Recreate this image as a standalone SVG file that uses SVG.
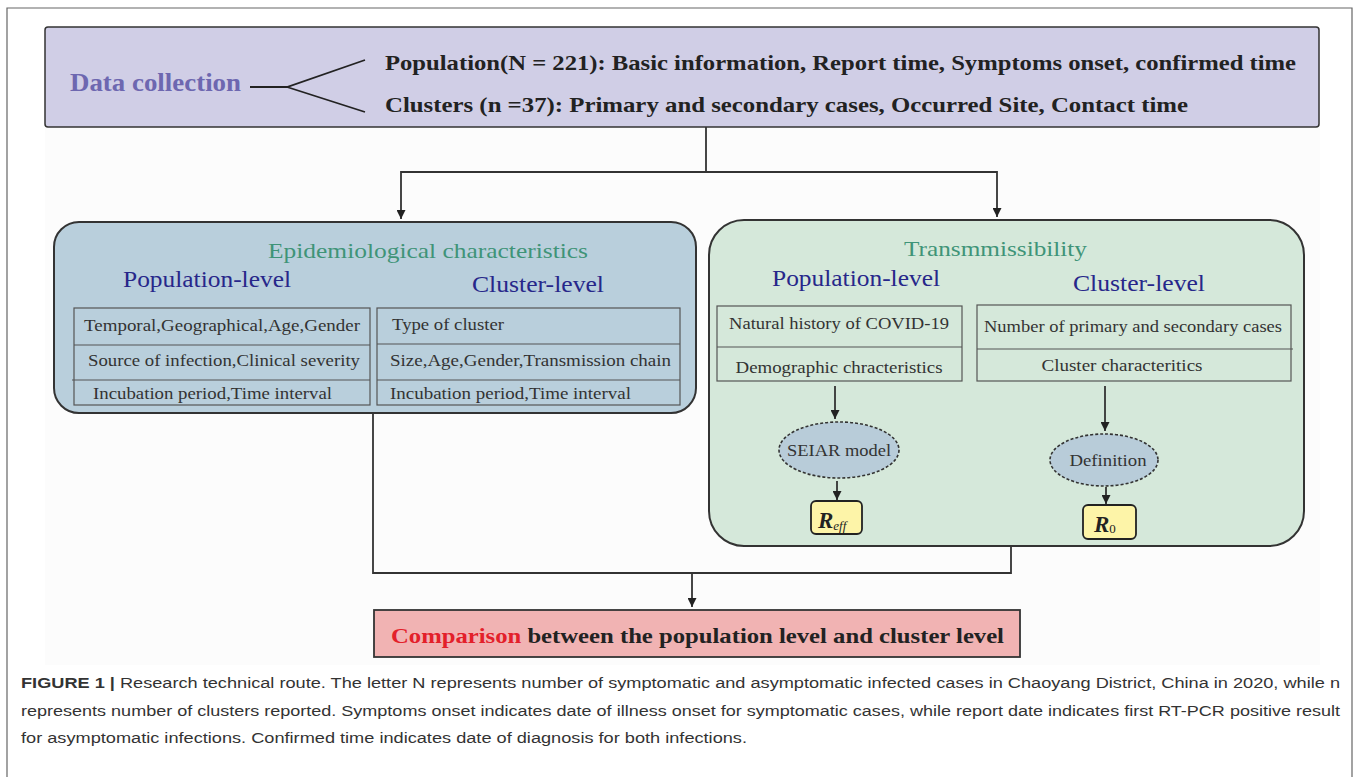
<svg xmlns="http://www.w3.org/2000/svg" width="1358" height="777" viewBox="0 0 1358 777">
<style>
.serif{font-family:"Liberation Serif","Times New Roman",serif;}
.b{font-weight:bold;}
.cell{font-family:"Liberation Serif","Times New Roman",serif;font-size:16px;fill:#333;}
.head{font-family:"Liberation Serif","Times New Roman",serif;font-size:23px;fill:#27278a;}
.title{font-family:"Liberation Serif","Times New Roman",serif;font-size:22px;fill:#3f9478;}
.tbl{fill:none;stroke:#555;stroke-width:1.2;}
.ln{fill:none;stroke:#333;stroke-width:1.8;}
.cap{font-family:"Liberation Sans",Arial,sans-serif;font-size:15.5px;fill:#333;}
</style>
<defs>
<marker id="ah" viewBox="0 0 10 10" refX="10" refY="5" markerWidth="5" markerHeight="5" markerUnits="strokeWidth" orient="auto">
<path d="M0,0 L10,5 L0,10 Z" fill="#222"/>
</marker>
</defs>
<rect width="1358" height="777" fill="#ffffff"/>
<path d="M7,777 V8 H1352 V777" fill="none" stroke="#666" stroke-width="1.2"/>
<rect x="45" y="120" width="1275" height="545" fill="#fcfcfc"/>

<g id="data-collection">
<rect x="45" y="27" width="1274" height="100" rx="3" fill="#d0cee6" stroke="#333" stroke-width="1.5"/>
<text x="70" y="91" class="serif b" font-size="25" fill="#6d67b0" textLength="171" lengthAdjust="spacingAndGlyphs">Data collection</text>
<path d="M250,87 H287 L365,60 M287,87 L365,112" fill="none" stroke="#222" stroke-width="1.8"/>
<text x="385" y="70" class="serif b" font-size="21" fill="#222" textLength="911" lengthAdjust="spacingAndGlyphs">Population(N = 221): Basic information, Report time, Symptoms onset, confirmed time</text>
<text x="385" y="112" class="serif b" font-size="21" fill="#222" textLength="803" lengthAdjust="spacingAndGlyphs">Clusters (n =37):  Primary and secondary cases, Occurred Site, Contact time</text>
</g>

<g id="epidemiological">
<rect x="54" y="222" width="642" height="191" rx="25" fill="#b9cfdc" stroke="#333" stroke-width="2"/>
<text x="268" y="258" class="title" textLength="320" lengthAdjust="spacingAndGlyphs">Epidemiological characteristics</text>
<text x="123" y="287" class="head" textLength="168" lengthAdjust="spacingAndGlyphs">Population-level</text>
<text x="472" y="292" class="head" textLength="132" lengthAdjust="spacingAndGlyphs">Cluster-level</text>
<rect x="74" y="308" width="296" height="97" class="tbl"/>
<path d="M74,345 H370 M72,380 H370" class="tbl"/>
<text x="84" y="331" class="cell" textLength="276" lengthAdjust="spacingAndGlyphs">Temporal,Geographical,Age,Gender</text>
<text x="88" y="366" class="cell" textLength="272" lengthAdjust="spacingAndGlyphs">Source of infection,Clinical severity</text>
<text x="93" y="399" class="cell" textLength="239" lengthAdjust="spacingAndGlyphs">Incubation period,Time interval</text>
<rect x="377" y="308" width="303" height="97" class="tbl"/>
<path d="M377,344 H680 M377,380 H680" class="tbl"/>
<text x="392" y="330" class="cell" textLength="112" lengthAdjust="spacingAndGlyphs">Type of cluster</text>
<text x="390" y="366" class="cell" textLength="281" lengthAdjust="spacingAndGlyphs">Size,Age,Gender,Transmission chain</text>
<text x="390" y="399" class="cell" textLength="241" lengthAdjust="spacingAndGlyphs">Incubation period,Time interval</text>
</g>

<g id="transmissibility">
<rect x="709" y="220" width="595" height="326" rx="35" fill="#d5e8da" stroke="#333" stroke-width="2"/>
<text x="904" y="256" class="title" textLength="183" lengthAdjust="spacingAndGlyphs">Transmmissibility</text>
<text x="772" y="286" class="head" textLength="168" lengthAdjust="spacingAndGlyphs">Population-level</text>
<text x="1073" y="291" class="head" textLength="132" lengthAdjust="spacingAndGlyphs">Cluster-level</text>
<rect x="717" y="306" width="245" height="75" class="tbl"/>
<path d="M717,347 H962" class="tbl"/>
<text x="839" y="329" class="cell" text-anchor="middle" textLength="220" lengthAdjust="spacingAndGlyphs">Natural history of COVID-19</text>
<text x="839" y="373" class="cell" text-anchor="middle" textLength="207" lengthAdjust="spacingAndGlyphs">Demographic chracteristics</text>
<rect x="977" y="305" width="314" height="76" class="tbl"/>
<path d="M977,349 H1293" class="tbl"/>
<text x="1133" y="332" class="cell" text-anchor="middle" textLength="298" lengthAdjust="spacingAndGlyphs">Number of primary and secondary cases</text>
<text x="1122" y="371" class="cell" text-anchor="middle" textLength="161" lengthAdjust="spacingAndGlyphs">Cluster characteritics</text>
</g>

<g id="seiar">
<ellipse cx="839" cy="450" rx="60" ry="28" fill="#b8ccd9" stroke="#333" stroke-width="1.6" stroke-dasharray="3,2"/>
<text x="839" y="456" class="cell" text-anchor="middle" textLength="104" lengthAdjust="spacingAndGlyphs">SEIAR model</text>
</g>
<g id="reff">
<rect x="811" y="501" width="51" height="33" rx="5" fill="#fdf4a8" stroke="#222" stroke-width="1.8"/>
<text x="818" y="528" class="serif b" font-style="italic" font-size="23" fill="#222">R<tspan font-size="13" font-weight="normal" dy="2">eff</tspan></text>
</g>
<g id="definition">
<ellipse cx="1104" cy="460" rx="54" ry="26" fill="#b8ccd9" stroke="#333" stroke-width="1.6" stroke-dasharray="3,2"/>
<text x="1108" y="466" class="cell" text-anchor="middle" textLength="77" lengthAdjust="spacingAndGlyphs">Definition</text>
</g>
<g id="r0">
<rect x="1083" y="505" width="53" height="34" rx="5" fill="#fdf4a8" stroke="#222" stroke-width="1.8"/>
<text x="1094" y="532" class="serif b" font-style="italic" font-size="23" fill="#222">R<tspan font-size="13" font-style="normal" font-weight="normal" dy="1">0</tspan></text>
</g>

<g id="comparison">
<rect x="374" y="610" width="646" height="47" fill="#f1b3b3" stroke="#333" stroke-width="1.8"/>
<text x="391" y="643" class="serif b" font-size="22" fill="#222" textLength="613" lengthAdjust="spacingAndGlyphs"><tspan fill="#e3202a">Comparison</tspan> between the population level and cluster level</text>
</g>

<g id="connectors">
<path class="ln" d="M706,127 V172 H401 V219" marker-end="url(#ah)"/>
<path class="ln" d="M706,172 H997 V217" marker-end="url(#ah)"/>
<path class="ln" d="M835,386 V419" marker-end="url(#ah)"/>
<path class="ln" d="M837,481 V500" marker-end="url(#ah)"/>
<path class="ln" d="M1105,386 V431" marker-end="url(#ah)"/>
<path class="ln" d="M1106,487 V504" marker-end="url(#ah)"/>
<path class="ln" d="M373,414 V573 H1011 V547"/>
<path class="ln" d="M692,573 V607" marker-end="url(#ah)"/>
</g>

<g id="caption">
<text x="21" y="688" class="cap" textLength="1319" lengthAdjust="spacingAndGlyphs"><tspan font-weight="bold">FIGURE 1 |</tspan> Research technical route. The letter N represents number of symptomatic and asymptomatic infected cases in Chaoyang District, China in 2020, while n</text>
<text x="21" y="716" class="cap" textLength="1319" lengthAdjust="spacingAndGlyphs">represents number of clusters reported. Symptoms onset indicates date of illness onset for symptomatic cases, while report date indicates first RT-PCR positive result</text>
<text x="21" y="743" class="cap" textLength="726" lengthAdjust="spacingAndGlyphs">for asymptomatic infections. Confirmed time indicates date of diagnosis for both infections.</text>
</g>
</svg>
